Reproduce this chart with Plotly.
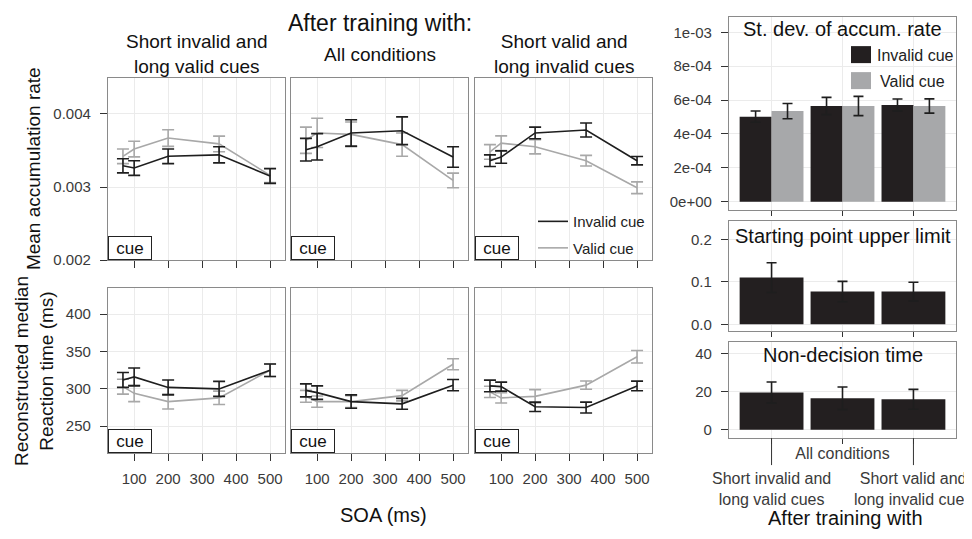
import plotly.graph_objects as go

# ---------------- data ----------------
soa = [67, 100, 200, 350, 500]
soa_ticks = [100, 200, 300, 400, 500]

panel_titles = ["Short invalid and<br>long valid cues", "All conditions",
                "Short valid and<br>long invalid cues"]

# Mean accumulation rate
rate_inv_p1 = [0.00329, 0.00326, 0.00342, 0.00344, 0.00315]
rate_inv_p1_err = [0.000096, 0.0001, 0.0001, 0.00011, 0.0001]
rate_val_p1 = [0.00342, 0.00352, 0.00367, 0.00359, 0.00316]
rate_val_p1_err = [0.0001, 0.000107, 0.000114, 0.000107, 0.0001]

rate_inv_p2 = [0.00351, 0.00355, 0.00374, 0.00377, 0.00341]
rate_inv_p2_err = [0.000155, 0.00018, 0.00018, 0.00019, 0.00014]
rate_val_p2 = [0.00364, 0.00374, 0.00372, 0.00358, 0.00309]
rate_val_p2_err = [0.00018, 0.0002, 0.00017, 0.00016, 0.0001]

rate_inv_p3 = [0.00336, 0.00341, 0.00374, 0.00378, 0.00336]
rate_inv_p3_err = [0.00008, 0.000085, 0.00008, 0.000096, 0.000057]
rate_val_p3 = [0.00348, 0.0036, 0.00355, 0.00336, 0.00299]
rate_val_p3_err = [0.0001, 0.0001, 0.000096, 0.000073, 0.00008]

# Reconstructed median RT (ms)
rt_inv_p1 = [312, 316, 302, 300, 325]
rt_inv_p1_err = [10, 12, 10, 10, 8.4]
rt_val_p1 = [303, 294, 283, 288, 325]
rt_val_p1_err = [10, 11, 10, 9, 8.4]

rt_inv_p2 = [298, 295, 283, 280, 305]
rt_inv_p2_err = [8.7, 9, 9, 7.3, 7.5]
rt_val_p2 = [290, 283, 283, 291, 333]
rt_val_p2_err = [8, 7.5, 8, 7, 7.3]

rt_inv_p3 = [304, 303, 276, 275, 304]
rt_inv_p3_err = [7.8, 6, 6.2, 7.3, 6.4]
rt_val_p3 = [296, 288, 290, 305, 343]
rt_val_p3_err = [7.5, 7, 9, 5.5, 8.4]

# Bar panels
groups = ["Short invalid and long valid cues", "All conditions",
          "Short valid and long invalid cues"]
sd_inv = [0.000502, 0.000565, 0.000571]
sd_inv_err = [0.000033, 0.000051, 0.000035]
sd_val = [0.000535, 0.000565, 0.000565]
sd_val_err = [0.000045, 0.000057, 0.000042]
sp_upper = [0.110, 0.077, 0.077]
sp_upper_err = [0.035, 0.024, 0.022]
ndt = [19.5, 16.5, 16.0]
ndt_err = [5.5, 5.9, 5.2]

sd_ticks = [0, 0.0002, 0.0004, 0.0006, 0.0008, 0.001]
sd_ticktext = ["0e+00", "2e-04", "4e-04", "6e-04", "8e-04", "1e-03"]

# ---------------- style ----------------
PAGE_OFF = 8            # default body margin of the page
KY = 0.985              # vertical scale observed between page and picture
W, H = 972 - PAGE_OFF, 539 - PAGE_OFF
FONT = "Liberation Sans, Arial, sans-serif"
BLACK = "#1e1e1e"
GRAY = "#a8a8a8"
BAR_BLACK = "#231f20"
BAR_GRAY = "#a7a8aa"
BORDER = "#8a8a8a"
GRID = "#ebebeb"
TICKC = "#333333"
TXT = "#3a3a3a"


def fx(a):
    return (a - PAGE_OFF) / W


def fy(b):
    return 1 - (b / KY - PAGE_OFF) / H


def xdom(a, b):
    return [fx(a), fx(b)]


def ydom(top, bot):
    return [fy(bot), fy(top)]


fig = go.Figure()

left_cols = [(108, 285), (291, 468), (475, 652)]
top_row = (78, 260)
bot_row = (288, 453)

rate_sets = [
    (rate_inv_p1, rate_inv_p1_err, rate_val_p1, rate_val_p1_err),
    (rate_inv_p2, rate_inv_p2_err, rate_val_p2, rate_val_p2_err),
    (rate_inv_p3, rate_inv_p3_err, rate_val_p3, rate_val_p3_err),
]
rt_sets = [
    (rt_inv_p1, rt_inv_p1_err, rt_val_p1, rt_val_p1_err),
    (rt_inv_p2, rt_inv_p2_err, rt_val_p2, rt_val_p2_err),
    (rt_inv_p3, rt_inv_p3_err, rt_val_p3, rt_val_p3_err),
]


def add_pair(idx, inv, inv_err, val, val_err, legend=False):
    ax = "" if idx == 1 else str(idx)
    for name, ys, es, col, grp in [("Valid cue", val, val_err, GRAY, "b"),
                                   ("Invalid cue", inv, inv_err, BLACK, "a")]:
        fig.add_trace(go.Scatter(
            x=soa, y=ys, mode="lines", name=name,
            line=dict(color=col, width=1.6),
            error_y=dict(type="data", array=es, color=col, thickness=1.6, width=6),
            xaxis="x" + ax, yaxis="y" + ax,
            showlegend=legend, legendgroup=grp, legendrank=1 if grp == "a" else 2,
        ))


for i in range(3):
    add_pair(i + 1, *rate_sets[i], legend=(i == 2))
    add_pair(i + 4, *rt_sets[i])

# bars
fig.add_trace(go.Bar(x=groups, y=sd_inv, marker=dict(color=BAR_BLACK, line=dict(width=0)),
                     error_y=dict(array=sd_inv_err, color=BLACK, thickness=1.6, width=5),
                     xaxis="x7", yaxis="y7", showlegend=False, name="Invalid cue"))
fig.add_trace(go.Bar(x=groups, y=sd_val, marker=dict(color=BAR_GRAY, line=dict(width=0)),
                     error_y=dict(array=sd_val_err, color=BLACK, thickness=1.6, width=5),
                     xaxis="x7", yaxis="y7", showlegend=False, name="Valid cue"))
fig.add_trace(go.Bar(x=groups, y=sp_upper, marker=dict(color=BAR_BLACK, line=dict(width=0)),
                     error_y=dict(array=sp_upper_err, color=BLACK, thickness=1.6, width=5),
                     xaxis="x8", yaxis="y8", showlegend=False))
fig.add_trace(go.Bar(x=groups, y=ndt, marker=dict(color=BAR_BLACK, line=dict(width=0)),
                     error_y=dict(array=ndt_err, color=BLACK, thickness=1.6, width=5),
                     xaxis="x9", yaxis="y9", showlegend=False))

base_axis = dict(showline=True, mirror=True, linecolor=BORDER, linewidth=1.3,
                 showgrid=True, gridcolor=GRID, gridwidth=1, zeroline=False,
                 ticks="outside", tickcolor=TICKC, tickwidth=1, ticklen=7,
                 tickfont=dict(size=15, color=TXT, family=FONT))

layout = {}
for i in range(3):
    for row, (top, bot), off in [(0, top_row, 1), (1, bot_row, 4)]:
        n = i + off
        k = "" if n == 1 else str(n)
        xa = dict(base_axis, domain=xdom(*left_cols[i]), anchor="y" + k,
                  range=[23, 544], tickvals=soa_ticks,
                  showticklabels=(row == 1), ticklabelstandoff=5)
        if row == 0:
            ya = dict(base_axis, domain=ydom(top, bot), anchor="x" + k,
                      range=[0.002, 0.00449], tickvals=[0.002, 0.003, 0.004],
                      tickformat=".3f")
        else:
            ya = dict(base_axis, domain=ydom(top, bot), anchor="x" + k,
                      range=[214, 435], tickvals=[250, 300, 350, 400])
        if i == 0:
            ya.update(showticklabels=True, ticklabelstandoff=6)
        else:
            ya.update(showticklabels=False, ticks="")
        layout["xaxis" + k] = xa
        layout["yaxis" + k] = ya

right_x = (729, 956)
right_rows = [(17, 210), (221, 331), (342, 438)]
yconf = [
    dict(range=[-0.00005, 0.00109], tickvals=sd_ticks, ticktext=sd_ticktext),
    dict(range=[-0.016, 0.243], tickvals=[0, 0.1, 0.2], tickformat=".1f"),
    dict(range=[-4.3, 45.9], tickvals=[0, 20, 40]),
]
for j in range(3):
    n = 7 + j
    xa = dict(base_axis, domain=xdom(*right_x), anchor="y%d" % n, type="category",
              range=[-0.6, 2.6], showticklabels=(j == 2), ticklen=5,
              ticklabelstandoff=-4,
              tickvals=groups, ticktext=["", "All conditions", ""] if j == 2 else None,
              tickfont=dict(size=16, color=TXT, family=FONT))
    ya = dict(base_axis, domain=ydom(*right_rows[j]), anchor="x%d" % n,
              ticklabelstandoff=6, **yconf[j])
    layout["xaxis%d" % n] = xa
    layout["yaxis%d" % n] = ya

fig.update_layout(**layout)

# ---------------- annotations ----------------
ann = []


def text(x, y, s, size, color="#111111", angle=0, xanchor="center", yanchor="middle"):
    ann.append(dict(x=x, y=y, xref="paper", yref="paper", text=s, showarrow=False,
                    font=dict(size=size, color=color, family=FONT), textangle=angle,
                    xanchor=xanchor, yanchor=yanchor))


text(fx(380), 1, "After training with:", 23, yanchor="top")
for i, t in enumerate(panel_titles):
    c = (left_cols[i][0] + left_cols[i][1]) / 2
    text(fx(c), fy(54), t, 19)
text(fx(33), fy(169), "Mean accumulation rate", 19, angle=-90)
text(fx(34), fy(371), "Reconstructed median<br>Reaction time (ms)", 19, angle=-90)
text(fx(383), fy(515), "SOA (ms)", 20)
text(fx(842.5), fy(29), "St. dev. of accum. rate", 20)
text(fx(842.5), fy(236), "Starting point upper limit", 20)
text(fx(842.5), fy(355), "Non-decision time", 20)
text(fx(845), 0, "After training with", 20, yanchor="bottom")

# staggered category labels under the lowest bar panel
for gi in (0, 2):
    ann.append(dict(x=groups[gi], y=fy(489), xref="x9", yref="paper",
                    text=panel_titles[gi], showarrow=False,
                    font=dict(size=16, color=TXT, family=FONT),
                    xanchor="center", yanchor="middle"))

# "cue" boxes
for n in range(1, 7):
    k = "" if n == 1 else str(n)
    ann.append(dict(x=0, y=0, xref="x%s domain" % k, yref="y%s domain" % k,
                    text="cue", showarrow=False, xanchor="left", yanchor="bottom",
                    font=dict(size=17, color="#111111", family=FONT),
                    bgcolor="white", bordercolor="#222222", borderwidth=1,
                    borderpad=1, width=40, height=20, align="center"))

# bar legend labels
text(fx(875), fy(55), "Invalid cue", 16, color="#222222", xanchor="left")
text(fx(878), fy(81), "Valid cue", 16, color="#222222", xanchor="left")

shapes = []
shapes.append(dict(type="rect", xref="paper", yref="paper", x0=fx(851), x1=fx(871),
                   y0=fy(63), y1=fy(46), fillcolor=BAR_BLACK, line=dict(width=0)))
shapes.append(dict(type="rect", xref="paper", yref="paper", x0=fx(851), x1=fx(871),
                   y0=fy(89), y1=fy(72), fillcolor=BAR_GRAY, line=dict(width=0)))
for gi in (0, 2):
    shapes.append(dict(type="line", xref="x9", yref="y9 domain", x0=gi, x1=gi,
                       y0=0, y1=-27 / 96, line=dict(color=TICKC, width=1)))

fig.update_layout(
    annotations=ann, shapes=shapes,
    width=W, height=H, autosize=False,
    margin=dict(l=0, r=0, t=0, b=0),
    paper_bgcolor="white", plot_bgcolor="white",
    font=dict(family=FONT, color="#111111"),
    barmode="group", bargap=0.1, bargroupgap=0,
    legend=dict(x=fx(533), y=fy(205), xanchor="left", yanchor="top",
                font=dict(size=15, color="#222222", family=FONT),
                bgcolor="rgba(0,0,0,0)", traceorder="grouped", tracegroupgap=4),
)

fig.write_html("out.html")
